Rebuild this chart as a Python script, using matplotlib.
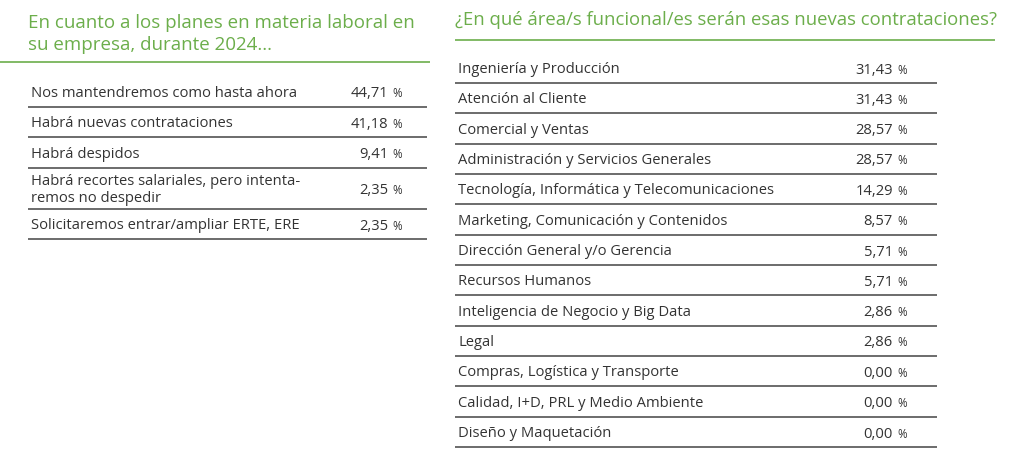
import matplotlib
matplotlib.use("Agg")
import matplotlib.pyplot as plt

# ---- data ----
left_title = "En cuanto a los planes en materia laboral en\nsu empresa, durante 2024..."
left_labels = [
    "Nos mantendremos como hasta ahora",
    "Habrá nuevas contrataciones",
    "Habrá despidos",
    "Habrá recortes salariales, pero intenta-\nremos no despedir",
    "Solicitaremos entrar/ampliar ERTE, ERE",
]
left_values = [44.71, 41.18, 9.41, 2.35, 2.35]

right_title = "¿En qué área/s funcional/es serán esas nuevas contrataciones?"
right_labels = [
    "Ingeniería y Producción",
    "Atención al Cliente",
    "Comercial y Ventas",
    "Administración y Servicios Generales",
    "Tecnología, Informática y Telecomunicaciones",
    "Marketing, Comunicación y Contenidos",
    "Dirección General y/o Gerencia",
    "Recursos Humanos",
    "Inteligencia de Negocio y Big Data",
    "Legal",
    "Compras, Logística y Transporte",
    "Calidad, I+D, PRL y Medio Ambiente",
    "Diseño y Maquetación",
]
right_values = [31.43, 31.43, 28.57, 28.57, 14.29, 8.57, 5.71, 5.71, 2.86, 2.86, 0.00, 0.00, 0.00]

# ---- style ----
FONT = "Open Sans"
GREEN = "#6cae4b"
TEXT = "#333333"
LINE = "#444444"
W, H = 1024, 471

fig = plt.figure(figsize=(W / 100, H / 100), dpi=100)
ax = fig.add_axes([0, 0, 1, 1])
ax.set_xlim(0, W)
ax.set_ylim(H, 0)
ax.axis("off")


def fmt(v):
    return f"{v:.2f}".replace(".", ",")


def draw_row(x0, x1, num_right, yc, yline, label, value):
    ax.text(x0 + 3, yc, label, fontsize=10.6, family=FONT, color=TEXT,
            va="center", ha="left", linespacing=1.25)
    ax.text(num_right, yc + 4, fmt(value), fontsize=10.6, family=FONT, color=TEXT,
            va="baseline", ha="right")
    ax.text(num_right + 4, yc + 4, "%", fontsize=8.3, family=FONT, color=TEXT,
            va="baseline", ha="left")
    ax.plot([x0, x1], [yline, yline], color=LINE, lw=1.1, solid_capstyle="butt")


# ---- left panel ----
ax.text(28, 34, left_title, fontsize=13.5, family=FONT, color=GREEN,
        va="center", ha="left", linespacing=1.3)
ax.plot([0, 430], [62, 62], color=GREEN, lw=1.2, solid_capstyle="butt")

y_line = 76
for lab, val in zip(left_labels, left_values):
    nlines = lab.count("\n") + 1
    h = 30.5 if nlines == 1 else 41.0
    yc = y_line + h / 2 + 2
    y_line += h
    draw_row(28, 427, 388, yc, y_line, lab, val)

# ---- right panel ----
ax.text(455, 20, right_title, fontsize=13.3, family=FONT, color=GREEN,
        va="center", ha="left")
ax.plot([455, 995], [39.5, 39.5], color=GREEN, lw=1.2, solid_capstyle="butt")

step = (447 - 83) / (len(right_labels) - 1)
for i, (lab, val) in enumerate(zip(right_labels, right_values)):
    yline = 83 + step * i
    yc = yline - 13.5
    draw_row(455, 937, 893, yc, yline, lab, val)

fig.savefig("out.png", dpi=100, facecolor="white")
